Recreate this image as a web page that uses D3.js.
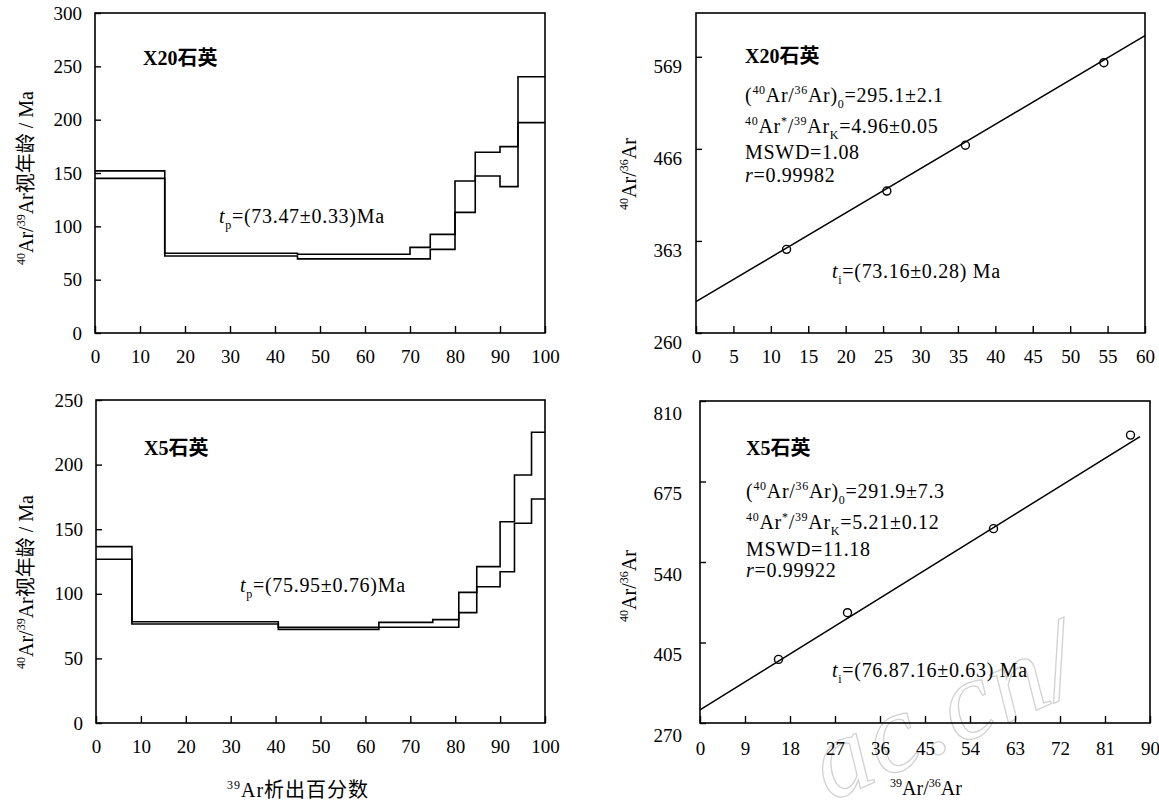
<!DOCTYPE html>
<html><head><meta charset="utf-8">
<script src="https://cdn.jsdelivr.net/npm/d3@7"></script>
<style>
body{margin:0;background:#fff;}
text{white-space:pre;}
</style>
</head><body>
<svg id="chart" width="1159" height="805"></svg>
<script>
// ---------- DATA ----------
const ageXTicks = [0,10,20,30,40,50,60,70,80,90,100];
const x20AgeYTicks = [0,50,100,150,200,250,300];
const x5AgeYTicks = [0,50,100,150,200,250];

// X20 age spectrum: step boundaries (cumulative 39Ar %), upper / lower step ages (Ma)
const x20Bounds = [0,15.5,45,70,74.5,80,84.5,90,94,100];
const x20Upper  = [152,74.7,73.8,80.3,92.5,142.5,169.4,174.7,240.3];
const x20Lower  = [145,72.2,69.5,69.5,78.4,113.1,147.2,137.2,197.2];

// X5 age spectrum
const x5Bounds = [0,8,40.6,63,75,80.8,84.8,90,93.2,97,100];
const x5Upper  = [136.5,78.4,74.1,77.9,80,101.1,121,155.8,192,225];
const x5Lower  = [126.7,76.6,72.5,74.1,74.1,85.4,105.5,117.1,154.6,173.4];

// Isochrons
const x20IsoXTicks = [0,5,10,15,20,25,30,35,40,45,50,55,60];
const x20IsoYTicks = [260,363,466,569];
const x20IsoX = [12.1,25.5,36.0,54.5];
const x20IsoY = [353.6,418.8,470.0,562.4];
const x20Fit = [295.1,4.96];      // intercept, slope
const x20FitRange = [0,60];

const x5IsoXTicks = [0,9,18,27,36,45,54,63,72,81,90];
const x5IsoYTicks = [270,405,540,675,810];
const x5IsoX = [15.7,29.5,58.7,86.1];
const x5IsoY = [376.7,455.0,595.9,752.8];
const x5Fit = [291.9,5.21];
const x5FitRange = [0,88];

// ---------- DRAW ----------
const svg = d3.select('#chart');
const FONT = "'Liberation Serif','Times New Roman','Noto Sans CJK SC',serif";
svg.attr('font-family', FONT).attr('fill','#000');

function rich(parent, segs, fs){
  const t = parent.append('text').attr('font-size', fs);
  let off = 0;
  segs.forEach(s=>{
    const str=s[0], kind=s[1], sty=s[2];
    const target = kind==='sup' ? -0.42*fs : (kind==='sub' ? 0.28*fs : 0);
    const ts = t.append('tspan').text(str).attr('dy', target-off);
    off = target;
    if(kind) ts.attr('font-size', fs*0.6);
    if(sty==='i') ts.attr('font-style','italic');
    if(sty==='b') ts.attr('font-weight','bold');
  });
  return t;
}

function panel(box, xDom, yDom, xTicks, yTicks, o){
  const x = d3.scaleLinear().domain(xDom).range([box.x0, box.x1]);
  const y = d3.scaleLinear().domain(yDom).range([box.y1, box.y0]);
  const g = svg.append('g');
  const ax = g.append('g').attr('transform',`translate(0,${box.y1})`)
    .call(d3.axisBottom(x).tickValues(xTicks).tickSizeInner(-7).tickSizeOuter(0).tickPadding(o.xPad).tickFormat(d3.format('d')));
  const ay = g.append('g').attr('transform',`translate(${box.x0},0)`)
    .call(d3.axisLeft(y).tickValues(yTicks).tickSizeInner(-6).tickSizeOuter(0).tickPadding(o.yPad).tickFormat(d3.format('d')));
  [ax,ay].forEach(a=>{
    a.select('.domain').remove();
    a.selectAll('line').attr('stroke','#000').attr('stroke-width',1.4);
    a.selectAll('text').attr('font-size',19).attr('font-family',FONT).attr('fill','#000');
  });
  if(o.yDy) ay.selectAll('text').attr('dy', o.yDy);
  g.append('rect').attr('x',box.x0).attr('y',box.y0)
    .attr('width',box.x1-box.x0).attr('height',box.y1-box.y0)
    .attr('fill','none').attr('stroke','#000').attr('stroke-width',1.6);
  return {x,y,g};
}

function steps(p, bounds, vals){
  const pts = bounds.map((b,i)=>[b, vals[Math.min(i, vals.length-1)]]);
  p.g.append('path').datum(pts)
    .attr('d', d3.line().x(d=>p.x(d[0])).y(d=>p.y(d[1])).curve(d3.curveStepAfter))
    .attr('fill','none').attr('stroke','#000').attr('stroke-width',1.6);
}

function iso(p, xs, ys, fit, range){
  const ln = range.map(v=>[v, fit[0]+fit[1]*v]);
  p.g.append('path').datum(ln)
    .attr('d', d3.line().x(d=>p.x(d[0])).y(d=>p.y(d[1])))
    .attr('fill','none').attr('stroke','#000').attr('stroke-width',1.5);
  p.g.selectAll('circle.pt').data(xs.map((v,i)=>[v,ys[i]])).join('circle')
    .attr('cx',d=>p.x(d[0])).attr('cy',d=>p.y(d[1])).attr('r',4)
    .attr('fill','none').attr('stroke','#000').attr('stroke-width',1.4);
}

// watermark (faint outline)
svg.append('text').attr('transform','translate(830,802) rotate(-24)')
  .attr('font-size',112).attr('font-style','italic').attr('font-family',FONT)
  .attr('fill','none').attr('stroke','#d2d2d2').attr('stroke-width',1.3)
  .attr('letter-spacing',2).text('ac.cn/');

const LS = 0.7;
// Top-left: X20 age spectrum
const pTL = panel({x0:95,x1:545,y0:13,y1:333},[0,100],[0,300],ageXTicks,x20AgeYTicks,{xPad:17,yPad:13});
steps(pTL, x20Bounds, x20Upper);
steps(pTL, x20Bounds, x20Lower);
rich(pTL.g,[['X20石英',null,'b']],20).attr('x',143).attr('y',65);
rich(pTL.g,[['t',null,'i'],['p','sub'],['=(73.47±0.33)Ma']],20).attr('letter-spacing',LS).attr('x',219).attr('y',223);

// Bottom-left: X5 age spectrum
const pBL = panel({x0:96,x1:545,y0:400,y1:723},[0,100],[0,250],ageXTicks,x5AgeYTicks,{xPad:17,yPad:13});
steps(pBL, x5Bounds, x5Upper);
steps(pBL, x5Bounds, x5Lower);
rich(pBL.g,[['X5石英',null,'b']],20).attr('x',144).attr('y',455);
rich(pBL.g,[['t',null,'i'],['p','sub'],['=(75.95±0.76)Ma']],20).attr('letter-spacing',LS).attr('x',240).attr('y',592);

// Top-right: X20 isochron
const pTR = panel({x0:696,x1:1145,y0:13,y1:333},[0,60],[260,618],x20IsoXTicks,x20IsoYTicks,{xPad:17,yPad:14,yDy:'0.8em'});
iso(pTR, x20IsoX, x20IsoY, x20Fit, x20FitRange);
rich(pTR.g,[['X20石英',null,'b']],20).attr('x',745).attr('y',63);
rich(pTR.g,[['('],['40','sup'],['Ar/'],['36','sup'],['Ar)'],['0','sub'],['=295.1±2.1']],20).attr('letter-spacing',LS).attr('x',745).attr('y',102);
rich(pTR.g,[['40','sup'],['Ar'],['*','sup'],['/'],['39','sup'],['Ar'],['K','sub'],['=4.96±0.05']],20).attr('letter-spacing',LS).attr('x',745).attr('y',133);
rich(pTR.g,[['MSWD=1.08']],20).attr('letter-spacing',LS).attr('x',745).attr('y',159);
rich(pTR.g,[['r',null,'i'],['=0.99982']],20).attr('letter-spacing',LS).attr('x',745).attr('y',182);
rich(pTR.g,[['t',null,'i'],['i','sub'],['=(73.16±0.28) Ma']],20).attr('letter-spacing',LS).attr('x',832).attr('y',278);

// Bottom-right: X5 isochron
const pBR = panel({x0:700,x1:1150,y0:401,y1:723},[0,90],[270,810],x5IsoXTicks,x5IsoYTicks,{xPad:19,yPad:18,yDy:'0.95em'});
iso(pBR, x5IsoX, x5IsoY, x5Fit, x5FitRange);
rich(pBR.g,[['X5石英',null,'b']],20).attr('x',746).attr('y',455);
rich(pBR.g,[['('],['40','sup'],['Ar/'],['36','sup'],['Ar)'],['0','sub'],['=291.9±7.3']],20).attr('letter-spacing',LS).attr('x',746).attr('y',498);
rich(pBR.g,[['40','sup'],['Ar'],['*','sup'],['/'],['39','sup'],['Ar'],['K','sub'],['=5.21±0.12']],20).attr('letter-spacing',LS).attr('x',746).attr('y',529);
rich(pBR.g,[['MSWD=11.18']],20).attr('letter-spacing',LS).attr('x',746).attr('y',556);
rich(pBR.g,[['r',null,'i'],['=0.99922']],20).attr('letter-spacing',LS).attr('x',746).attr('y',577);
rich(pBR.g,[['t',null,'i'],['i','sub'],['=(76.87.16±0.63) Ma']],20).attr('letter-spacing',LS).attr('x',832).attr('y',677);

// Axis titles
const ageTitle = [['40','sup'],['Ar/'],['39','sup'],['Ar视年龄 / Ma']];
rich(svg,ageTitle,20).attr('text-anchor','middle').attr('transform','translate(33,178) rotate(-90)');
rich(svg,ageTitle,20).attr('text-anchor','middle').attr('transform','translate(33,582) rotate(-90)');
const isoTitle = [['40','sup'],['Ar/'],['36','sup'],['Ar']];
rich(svg,isoTitle,20).attr('text-anchor','middle').attr('transform','translate(636,174) rotate(-90)');
rich(svg,isoTitle,20).attr('text-anchor','middle').attr('transform','translate(636,586) rotate(-90)');
rich(svg,[['39','sup'],['Ar析出百分数']],20).attr('text-anchor','middle').attr('letter-spacing',1).attr('x',298).attr('y',797);
rich(svg,[['39','sup'],['Ar/'],['36','sup'],['Ar']],20).attr('text-anchor','middle').attr('x',926).attr('y',795);
</script>
</body></html>
